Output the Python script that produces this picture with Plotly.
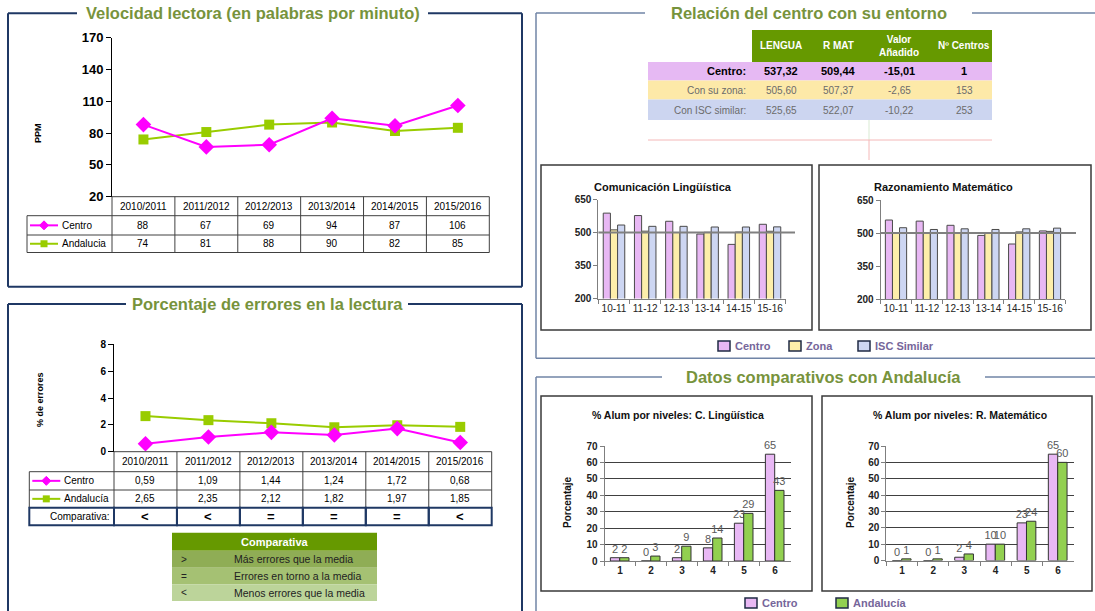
import plotly.graph_objects as go

W, H = 1095, 611
def X(p): return p / W
def Y(p): return 1 - p / H

# ---------------- data ----------------
years = ["2010/2011", "2011/2012", "2012/2013", "2013/2014", "2014/2015", "2015/2016"]
vel_centro = [88, 67, 69, 94, 87, 106]
vel_andalucia = [74, 81, 88, 90, 82, 85]
vel_ticks = [20, 50, 80, 110, 140, 170]

err_centro = [0.59, 1.09, 1.44, 1.24, 1.72, 0.68]
err_andalucia = [2.65, 2.35, 2.12, 1.82, 1.97, 1.85]
err_ticks = [0, 2, 4, 6, 8]
comparativa = ["<", "<", "=", "=", "=", "<"]
cmp_symbols = [">", "=", "<"]
cmp_texts = ["Más errores que la media", "Errores en torno a la media", "Menos errores que la media"]

ent_cols = ["LENGUA", "R MAT", "Valor<br>Añadido", "Nº Centros"]
ent_rows = ["Centro:", "Con su zona:", "Con ISC similar:"]
ent_lengua = [537.32, 505.60, 525.65]
ent_rmat = [509.44, 507.37, 522.07]
ent_valor = [-15.01, -2.65, -10.22]
ent_centros = [1, 153, 253]

cursos = ["10-11", "11-12", "12-13", "13-14", "14-15", "15-16"]
cl_centro = [588, 577, 551, 493, 446, 537.32]
cl_zona = [512, 506, 500, 501, 502, 505.60]
cl_isc = [534, 528, 528, 525, 525, 525.65]
rm_centro = [559, 554, 535, 489, 450, 509.44]
rm_zona = [499, 500, 500, 500, 505, 507.37]
rm_isc = [524, 516, 519, 516, 519, 522.07]
score_ticks = [200, 350, 500, 650]

niveles = ["1", "2", "3", "4", "5", "6"]
pct_cl_centro = [2, 0, 2, 8, 23, 65]
pct_cl_andalucia = [2, 3, 9, 14, 29, 43]
pct_rm_centro = [0, 0, 2, 10, 23, 65]
pct_rm_andalucia = [1, 1, 4, 10, 24, 60]

# ---------------- styles ----------------
FONT = "Liberation Sans, Arial, sans-serif"
MAG = "#ff00ff"
LIME = "#99cc00"
NAVY = "#1f3864"
OLIVE = "#77933c"
FRAME_R = "#7084a6"
C_CENTRO = "#e8b8f4"
C_ZONA = "#fdeeaa"
C_ISC = "#cdd6f2"
C_AND = "#92d050"
BAR_LINE = "#4a4a4a"

shapes, annots = [], []

def sline(x0, y0, x1, y1, color, width=1, xref="paper", yref="paper"):
    shapes.append(dict(type="line", xref=xref, yref=yref,
                       x0=X(x0) if xref == "paper" else x0, x1=X(x1) if xref == "paper" else x1,
                       y0=Y(y0) if yref == "paper" else y0, y1=Y(y1) if yref == "paper" else y1,
                       line=dict(color=color, width=width)))

def srect(x0, y0, x1, y1, fill=None, color=None, width=1, layer="above"):
    shapes.append(dict(type="rect", xref="paper", yref="paper", x0=X(x0), x1=X(x1), y0=Y(y1), y1=Y(y0),
                       fillcolor=fill or "rgba(0,0,0,0)",
                       line=dict(color=color or "rgba(0,0,0,0)", width=width if color else 0), layer=layer))

def spath(path_pts, fill):
    d = "M " + " L ".join(f"{X(a)},{Y(b)}" for a, b in path_pts) + " Z"
    shapes.append(dict(type="path", xref="paper", yref="paper", path=d, fillcolor=fill,
                       line=dict(color=fill, width=1)))

def text(x, y, s, size=10, color="#000", bold=False, xanchor="center", xref="paper", angle=0):
    annots.append(dict(x=X(x) if xref == "paper" else x, y=Y(y), xref=xref, yref="paper", text=s,
                       showarrow=False, xanchor=xanchor, yanchor="middle", textangle=angle,
                       font=dict(family=FONT, size=size, color=color, weight="bold" if bold else "normal")))

def fmt(v, d=2):
    return f"{v:.{d}f}".replace(".", ",")

def panel(x0, y0, x1, y1, g0, g1, color, width, title):
    sline(x0, y0, g0, y0, color, width)
    sline(g1, y0, x1, y0, color, width)
    sline(x0, y0, x0, y1, color, width)
    sline(x1, y0, x1, y1, color, width)
    sline(x0, y1, x1, y1, color, width)
    text((g0 + g1) / 2, y0, title, size=16.5, color=OLIVE, bold=True)

# ---------------- panels ----------------
panel(8, 13.3, 522, 286.7, 77, 428, NAVY, 2, "Velocidad lectora (en palabras por minuto)")
panel(8, 304, 522, 640, 126, 408, NAVY, 2, "Porcentaje de errores en la lectura")
panel(536, 13, 1110, 358.3, 645, 972, FRAME_R, 1.5, "Relación del centro con su entorno")
panel(536, 377, 1110, 640, 662, 985, FRAME_R, 1.5, "Datos comparativos con Andalucía")

fig = go.Figure()

# ---------------- axes domains (pixels) ----------------
D = {
    1: ((112, 489.3), (37.7, 196.7)),
    2: ((114, 491.7), (344.3, 451.7)),
    3: ((598.4, 785.6), (199.5, 298.5)),
    4: ((880.6, 1065.4), (200, 299)),
    5: ((604.5, 790.5), (446, 561)),
    6: ((886.4, 1073.6), (446, 560.5)),
}
def dom(k):
    (a, b), (c, d) = D[k]
    return [X(a), X(b)], [Y(d), Y(c)]

# ---------------- chart 1: velocidad ----------------
fig.add_trace(go.Scatter(x=years, y=vel_andalucia, xaxis="x", yaxis="y", mode="lines+markers",
                         line=dict(color=LIME, width=2), marker=dict(symbol="square", size=10, color=LIME),
                         name="Andalucía", showlegend=False, cliponaxis=False))
fig.add_trace(go.Scatter(x=years, y=vel_centro, xaxis="x", yaxis="y", mode="lines+markers",
                         line=dict(color=MAG, width=2), marker=dict(symbol="diamond", size=12, color=MAG),
                         name="Centro", showlegend=False, cliponaxis=False))

# ---------------- chart 2: errores ----------------
fig.add_trace(go.Scatter(x=years, y=err_andalucia, xaxis="x2", yaxis="y2", mode="lines+markers",
                         line=dict(color=LIME, width=2), marker=dict(symbol="square", size=10, color=LIME),
                         name="Andalucía", showlegend=False, cliponaxis=False))
fig.add_trace(go.Scatter(x=years, y=err_centro, xaxis="x2", yaxis="y2", mode="lines+markers",
                         line=dict(color=MAG, width=2), marker=dict(symbol="diamond", size=12, color=MAG),
                         name="Centro", showlegend=False, cliponaxis=False))

# ---------------- charts 3/4: scores ----------------
for ax, series in (("3", (cl_centro, cl_zona, cl_isc)), ("4", (rm_centro, rm_zona, rm_isc))):
    for vals, col, off, nm in zip(series, (C_CENTRO, C_ZONA, C_ISC), (-0.345, -0.115, 0.115),
                                  ("Centro", "Zona", "ISC Similar")):
        fig.add_trace(go.Bar(x=cursos, y=vals, xaxis="x" + ax, yaxis="y" + ax, width=0.23, offset=off,
                             marker=dict(color=col, line=dict(color=BAR_LINE, width=1)),
                             name=nm, showlegend=False))

# ---------------- charts 5/6: niveles ----------------
for ax, series in (("5", (pct_cl_centro, pct_cl_andalucia)), ("6", (pct_rm_centro, pct_rm_andalucia))):
    for vals, col, off, nm in zip(series, (C_CENTRO, C_AND), (-0.31, -0.01), ("Centro", "Andalucía")):
        fig.add_trace(go.Bar(x=niveles, y=vals, xaxis="x" + ax, yaxis="y" + ax, width=0.3, offset=off,
                             marker=dict(color=col, line=dict(color="#333", width=1)),
                             text=vals, textposition="outside", cliponaxis=False, constraintext="none",
                             textfont=dict(family=FONT, size=11, color="#595959"),
                             name=nm, showlegend=False))

# ---------------- layout axes ----------------
lay = {}
def bold(size, color="#000"):
    return dict(family=FONT, size=size, color=color, weight="bold")

for k in (1, 2):
    xd, yd = dom(k)
    sx = "" if k == 1 else str(k)
    lay["xaxis" + sx] = dict(domain=xd, anchor="y" + sx, type="category", range=[-0.5, 5.5],
                             showticklabels=False, showgrid=False, zeroline=False, showline=False, ticks="",
                             automargin=False)
lay["yaxis"] = dict(domain=dom(1)[1], anchor="x", range=[20, 170], tickvals=vel_ticks, showgrid=False,
                    zeroline=False, showline=True, linecolor="#000", linewidth=1, ticks="outside",
                    ticklen=5, tickcolor="#000", tickfont=bold(13), automargin=False)
lay["yaxis2"] = dict(domain=dom(2)[1], anchor="x2", range=[0, 8], tickvals=err_ticks, showgrid=False,
                     zeroline=False, showline=True, linecolor="#000", linewidth=1, ticks="outside",
                     ticklen=5, tickcolor="#000", tickfont=bold(10), automargin=False)
for k in (3, 4):
    xd, yd = dom(k)
    lay["xaxis%d" % k] = dict(domain=xd, anchor="y%d" % k, type="category", range=[-0.5, 5.5],
                              showgrid=False, zeroline=False, showline=True, linecolor="#7f7f7f",
                              ticks="outside", tickson="boundaries", ticklen=4, tickcolor="#7f7f7f",
                              tickangle=0, automargin=False,
                              tickfont=dict(family=FONT, size=10, color="#222"))
    lay["yaxis%d" % k] = dict(domain=yd, anchor="x%d" % k, range=[200, 650], tickvals=score_ticks,
                              showgrid=False, zeroline=False, showline=True, linecolor="#7f7f7f",
                              ticks="outside", ticklen=4, tickcolor="#7f7f7f", tickfont=bold(10, "#222"),
                              automargin=False)
for k in (5, 6):
    xd, yd = dom(k)
    lay["xaxis%d" % k] = dict(domain=xd, anchor="y%d" % k, type="category", range=[-0.5, 5.5],
                              showgrid=False, zeroline=False, showline=True, linecolor="#7f7f7f",
                              ticks="outside", tickson="boundaries", ticklen=4, tickcolor="#7f7f7f",
                              tickangle=0, automargin=False, tickfont=bold(10, "#222"))
    lay["yaxis%d" % k] = dict(domain=yd, anchor="x%d" % k, range=[0, 70], dtick=10,
                              showgrid=True, gridcolor="#404040", gridwidth=1, zeroline=False,
                              showline=True, linecolor="#7f7f7f", ticks="outside", ticklen=4,
                              tickcolor="#7f7f7f", tickfont=bold(10, "#222"), automargin=False)

# ---------------- table under chart 1 ----------------
TL = "#404040"
L1, R1 = D[1][0]
cw1 = (R1 - L1) / 6
left1 = 27
t0, t1, t2, t3 = 196.7, 215.7, 235, 252.5
sline(L1, t0, R1, t0, TL)
for yy in (t1, t2, t3):
    sline(left1, yy, R1, yy, TL)
sline(left1, t1, left1, t3, TL)
for i in range(7):
    sline(L1 + i * cw1, t0, L1 + i * cw1, t3, TL)
for i, yv in enumerate(years):
    text(i, (t0 + t1) / 2, yv, size=10, xref="x")
    text(i, (t1 + t2) / 2, str(vel_centro[i]), size=10, xref="x")
    text(i, (t2 + t3) / 2, str(vel_andalucia[i]), size=10, xref="x")

def key(xl, yc, kind):
    if kind == "c":
        sline(xl + 3, yc, xl + 31, yc, MAG, 2)
        spath([(xl + 17, yc - 4.5), (xl + 21.5, yc), (xl + 17, yc + 4.5), (xl + 12.5, yc)], MAG)
        text(xl + 33, yc, "Centro", xanchor="left")
    else:
        sline(xl + 3, yc, xl + 31, yc, LIME, 2)
        srect(xl + 13.5, yc - 3.5, xl + 20.5, yc + 3.5, fill=LIME)
        text(xl + 33, yc, "Andalucia" if kind == "a1" else "Andalucía", xanchor="left")

key(left1, (t1 + t2) / 2, "c")
key(left1, (t2 + t3) / 2, "a1")
text(38, 133, "PPM", size=9, bold=True, angle=-90)

# ---------------- table under chart 2 ----------------
L2, R2 = D[2][0]
cw2 = (R2 - L2) / 6
left2 = 29.3
u0, u1, u2, u3, u4 = 451.7, 471.7, 490, 507.7, 525.3
sline(L2, u0, R2, u0, TL)
for yy in (u1, u2):
    sline(left2, yy, R2, yy, TL)
sline(left2, u1, left2, u3, TL)
for i in range(7):
    sline(L2 + i * cw2, u0, L2 + i * cw2, u3, TL)
srect(left2, u3, L2, u4, color=NAVY, width=2)
for i in range(6):
    srect(L2 + i * cw2, u3, L2 + (i + 1) * cw2, u4, color=NAVY, width=2)
for i, yv in enumerate(years):
    text(i, (u0 + u1) / 2, yv, size=10, xref="x2")
    text(i, (u1 + u2) / 2, fmt(err_centro[i]), size=10, xref="x2")
    text(i, (u2 + u3) / 2, fmt(err_andalucia[i]), size=10, xref="x2")
    text(i, (u3 + u4) / 2, comparativa[i], size=13, bold=True, xref="x2")
key(left2, (u1 + u2) / 2, "c")
key(left2, (u2 + u3) / 2, "a")
text(111, (u3 + u4) / 2, "Comparativa:", size=10, xanchor="right")
text(40, 400, "% de errores", size=9, bold=True, angle=-90)

# legend table "Comparativa"
cx0, cx1 = 172, 377
cy = [532.7, 550.7, 567.7, 584.3, 601]
srect(cx0, cy[0], cx1, cy[1], fill="#669900", layer="below")
for j, fc in enumerate(("#8fad55", "#a5c173", "#bcd49a")):
    srect(cx0, cy[j + 1], cx1, cy[j + 2], fill=fc, layer="below")
    text(179, (cy[j + 1] + cy[j + 2]) / 2, cmp_symbols[j], size=10, color="#222", xanchor="left")
    text(232, (cy[j + 1] + cy[j + 2]) / 2, cmp_texts[j], size=10.5, color="#222", xanchor="left")
text((cx0 + cx1) / 2, (cy[0] + cy[1]) / 2, "Comparativa", size=11, color="#fff", bold=True)

# ---------------- entorno table ----------------
srect(752, 30, 992, 62, fill="#669900", layer="below")
srect(648, 62, 992, 80.5, fill="#e6b9f3", layer="below")
srect(648, 80.5, 992, 99.5, fill="#fde9a8", layer="below")
srect(648, 99.5, 992, 120, fill="#ccd5f0", layer="below")
col_x = [781, 838, 899, 964]
for cxp, lab in zip(col_x, ent_cols):
    text(cxp, 46, lab, size=10, color="#fff", bold=True)
row_y = [71, 90, 110]
for r in range(3):
    b = r == 0
    colr = "#000" if b else "#6b6b6b"
    sz = 11 if b else 10
    text(748, row_y[r], ent_rows[r], size=sz, color=colr, bold=b, xanchor="right")
    vals = [fmt(ent_lengua[r]), fmt(ent_rmat[r]), fmt(ent_valor[r]), str(ent_centros[r])]
    for cxp, v in zip(col_x, vals):
        text(cxp, row_y[r], v, size=sz, color=colr, bold=b)
sline(869, 120, 869, 140, "#d9ead3", 1)
sline(648, 140, 992, 140, "#f4b8b8", 1)
sline(869, 140, 869, 160, "#f4b8b8", 1)

# ---------------- bar chart frames & titles ----------------
BOX = "#3a3a3a"
srect(541, 165, 812, 330, color=BOX, width=1.5)
srect(819, 165, 1091, 330, color=BOX, width=1.5)
srect(541, 396, 812, 591, color=BOX, width=1.5)
srect(822, 396, 1092, 591, color=BOX, width=1.5)
text(592, 187, "Comunicación Lingüística", size=11, color="#111", bold=True, xanchor="left")
text(943, 187, "Razonamiento Matemático", size=11, color="#111", bold=True)
sline(598.4, 500, 795, 500, "#808080", 2, yref="y3")
sline(880.6, 500, 1076, 500, "#808080", 2, yref="y4")
text(678, 415, "% Alum por niveles: C. Lingüística", size=10.5, color="#111", bold=True)
text(960, 415, "% Alum por niveles: R. Matemático", size=10.5, color="#111", bold=True)
text(567, 502, "Porcentaje", size=10, color="#111", bold=True, angle=-90)
text(850, 502, "Porcentaje", size=10, color="#111", bold=True, angle=-90)

# custom legends
LEGC = "#76669a"
for bx, col, lab in ((718, C_CENTRO, "Centro"), (789, C_ZONA, "Zona"), (858, C_ISC, "ISC Similar")):
    srect(bx, 341, bx + 12, 351, fill=col, color="#1f2a44", width=1.5)
    text(bx + 15, 346, lab, size=11, color=LEGC, bold=True, xanchor="left")
for bx, col, lab in ((745, C_CENTRO, "Centro"), (836, C_AND, "Andalucía")):
    srect(bx, 598, bx + 12, 608, fill=col, color="#1f2a44", width=1.5)
    text(bx + 15, 603, lab, size=11, color=LEGC, bold=True, xanchor="left")

fig.update_layout(
    width=W, height=H, autosize=False,
    margin=dict(l=0, r=0, t=0, b=0, pad=0, autoexpand=False),
    paper_bgcolor="#ffffff", plot_bgcolor="rgba(0,0,0,0)",
    font=dict(family=FONT, size=10, color="#000"),
    showlegend=False, shapes=shapes, annotations=annots, **lay,
)
fig.write_html("out.html", config={"displayModeBar": False, "staticPlot": True},
               post_script="document.body.style.margin='0';document.body.style.padding='0';"
                           "document.body.style.overflow='hidden';")
